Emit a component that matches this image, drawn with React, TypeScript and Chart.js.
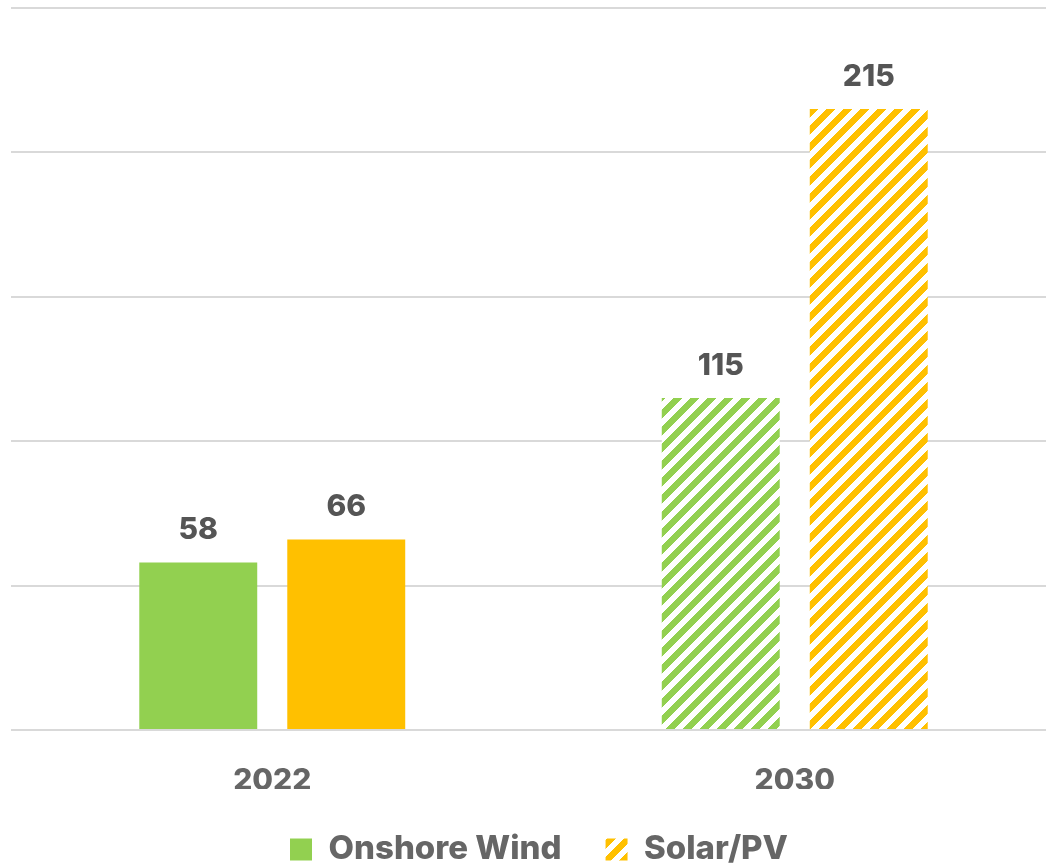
import React, { useEffect, useRef } from "react";
import { Chart, registerables } from "chart.js";

Chart.register(...registerables);

const categories = ["2022", "2030"];
const onshoreWind = [58, 115];
const solarPV = [66, 215];
const seriesNames = ["Onshore Wind", "Solar/PV"];
const yTicks = [0, 50, 100, 150, 200, 250];

const GREEN = "#92D050";
const YELLOW = "#FFC000";
const LABEL_TEXT = "#555555";
const TEXT = "#666666";
const FONT = "Inter, 'Open Sans', 'DejaVu Sans', sans-serif";

function makeHatch(color: string): CanvasPattern | string {
  const s = 17;
  const c = document.createElement("canvas");
  c.width = s;
  c.height = s;
  const ctx = c.getContext("2d");
  if (!ctx) return color;
  const hex = color.replace("#", "");
  const r = parseInt(hex.slice(0, 2), 16);
  const g = parseInt(hex.slice(2, 4), 16);
  const b = parseInt(hex.slice(4, 6), 16);
  const img = ctx.createImageData(s, s);
  for (let y = 0; y < s; y++) {
    for (let x = 0; x < s; x++) {
      const i = (y * s + x) * 4;
      const on = (x + y) % s < 9;
      img.data[i] = on ? r : 255;
      img.data[i + 1] = on ? g : 255;
      img.data[i + 2] = on ? b : 255;
      img.data[i + 3] = 255;
    }
  }
  ctx.putImageData(img, 0, 0);
  const p = ctx.createPattern(c, "repeat");
  return p || color;
}

const dataLabels = {
  id: "dataLabels",
  afterDatasetsDraw(chart: any) {
    const ctx = chart.ctx;
    ctx.save();
    ctx.font = `800 30px ${FONT}`;
    ctx.fillStyle = LABEL_TEXT;
    ctx.textAlign = "center";
    ctx.textBaseline = "alphabetic";
    chart.data.datasets.forEach((ds: any, di: number) => {
      const meta = chart.getDatasetMeta(di);
      meta.data.forEach((el: any, i: number) => {
        ctx.fillText(String(ds.data[i]), el.x, el.y - 23);
      });
    });
    ctx.restore();
  },
};

const legendShift = {
  id: "legendShift",
  afterLayout(chart: any) {
    const l = chart.legend;
    if (l) {
      l.left += 11;
      l.right += 11;
    }
  },
};

export default function App() {
  const ref = useRef<HTMLCanvasElement | null>(null);
  useEffect(() => {
    if (!ref.current) return;
    const greenHatch = makeHatch(GREEN);
    const yellowHatch = makeHatch(YELLOW);
    const chart = new Chart(ref.current, {
      type: "bar",
      data: {
        labels: categories,
        datasets: [
          {
            label: seriesNames[0],
            data: onshoreWind,
            backgroundColor: [GREEN, greenHatch] as any,
            borderWidth: 0,
            categoryPercentage: 0.5665,
            barPercentage: 0.797,
          },
          {
            label: seriesNames[1],
            data: solarPV,
            backgroundColor: [YELLOW, yellowHatch] as any,
            borderWidth: 0,
            categoryPercentage: 0.5665,
            barPercentage: 0.797,
          },
        ],
      },
      options: {
        animation: false,
        responsive: false,
        devicePixelRatio: 1,
        layout: { padding: { left: 0, right: 22, top: 8, bottom: 0 } },
        scales: {
          x: {
            grid: { display: false, drawTicks: false },
            border: { display: false },
            ticks: {
              color: TEXT,
              font: { family: FONT, size: 30, weight: "800", lineHeight: 1 },
              padding: 36,
            },
            afterFit: (s: any) => {
              s.height = 59;
            },
          },
          y: {
            min: 0,
            max: 250,
            afterBuildTicks: (s: any) => {
              s.ticks = yTicks.map((v) => ({ value: v }));
            },
            grid: { color: "#D9D9D9", lineWidth: 2, drawTicks: false },
            border: { display: false },
            ticks: { display: false },
            afterFit: (s: any) => {
              s.width = 11;
            },
          },
        },
        plugins: {
          tooltip: { enabled: false },
          legend: {
            position: "bottom",
            labels: {
              color: TEXT,
              font: { family: FONT, size: 33, weight: "800", lineHeight: 1 },
              boxWidth: 22,
              boxHeight: 22,
              padding: 44,
              generateLabels: () => [
                {
                  text: seriesNames[0],
                  fillStyle: GREEN as any,
                  strokeStyle: "rgba(0,0,0,0)",
                  lineWidth: 0,
                  fontColor: TEXT,
                  datasetIndex: 0,
                  hidden: false,
                },
                {
                  text: seriesNames[1],
                  fillStyle: yellowHatch as any,
                  strokeStyle: "rgba(0,0,0,0)",
                  lineWidth: 0,
                  fontColor: TEXT,
                  datasetIndex: 1,
                  hidden: false,
                },
              ],
            },
          },
        },
      } as any,
      plugins: [dataLabels, legendShift],
    });
    return () => chart.destroy();
  }, []);
  return (
    <div
      style={{
        position: "fixed",
        left: 0,
        top: 0,
        width: 1046,
        height: 866,
        overflow: "hidden",
        background: "#fff",
      }}
    >
      <canvas ref={ref} width={1078} height={876} style={{ display: "block" }} />
    </div>
  );
}
